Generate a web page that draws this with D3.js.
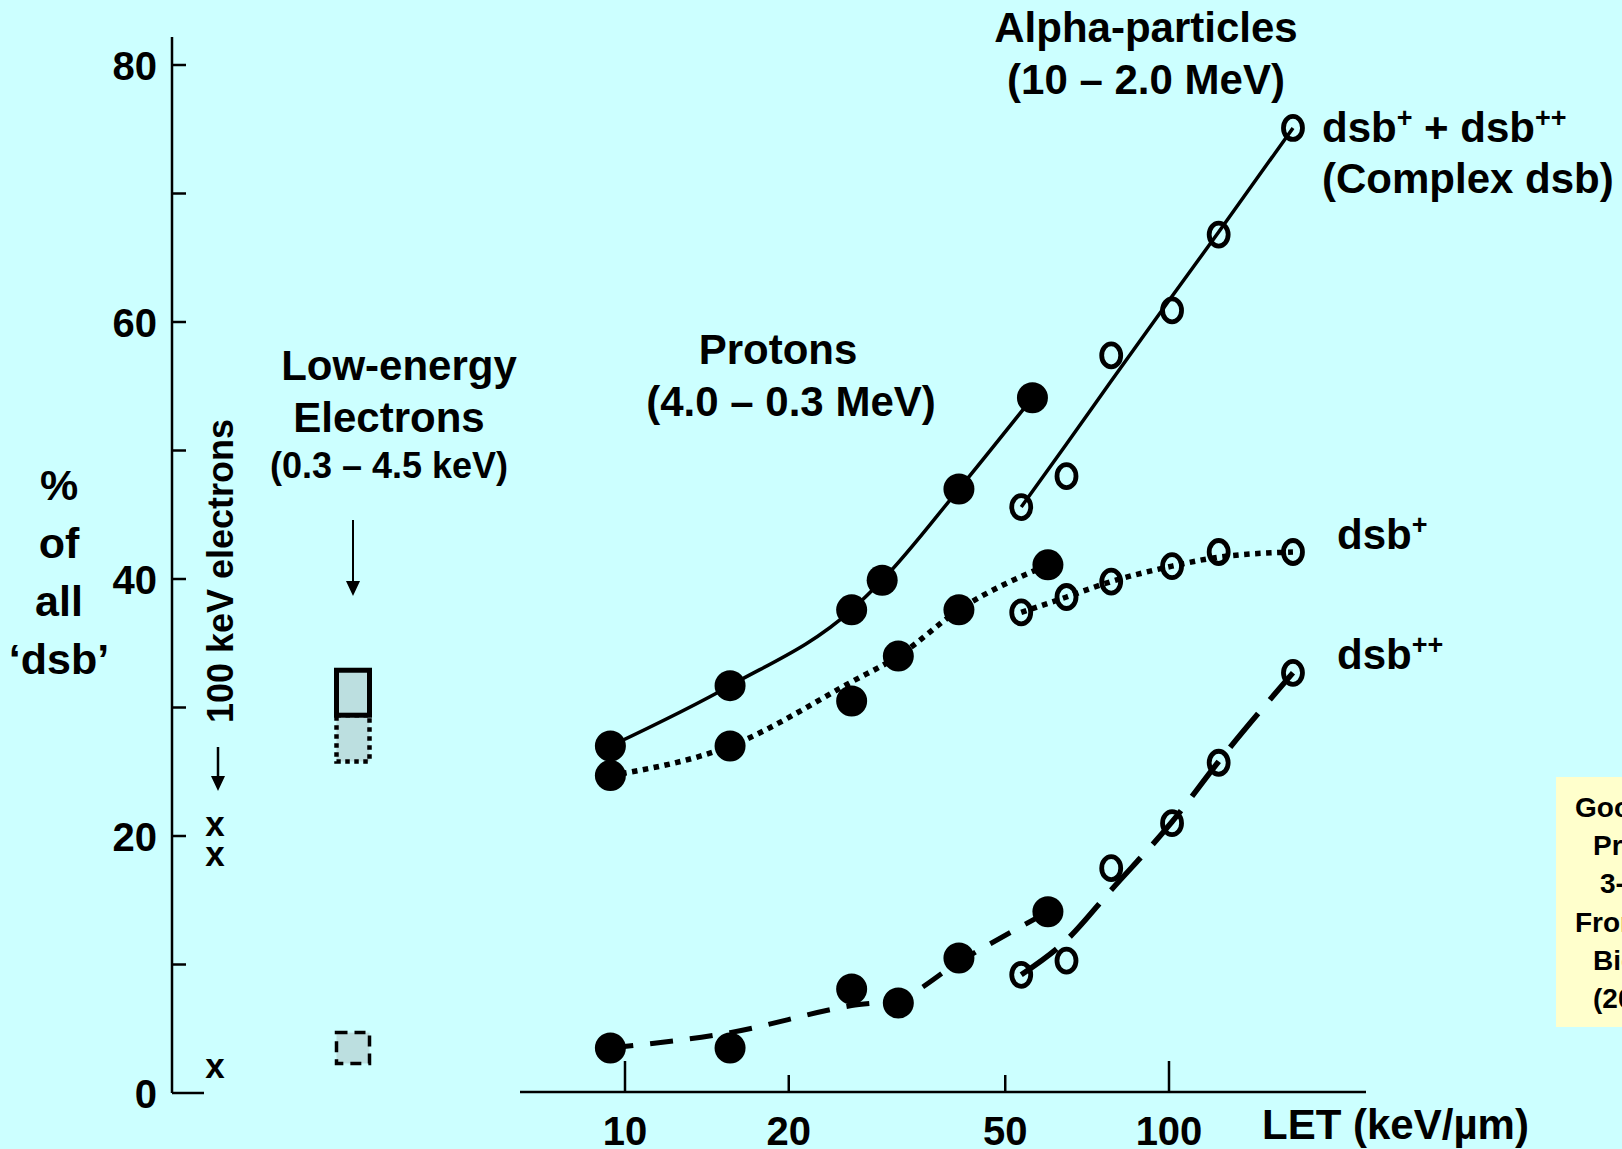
<!DOCTYPE html>
<html>
<head>
<meta charset="utf-8">
<script src="https://cdn.jsdelivr.net/npm/d3@7"></script>
<style>
  html, body { margin: 0; padding: 0; background: #ccffff; }
  svg { display: block; }
  text { font-family: "Liberation Sans", Arial, Helvetica, sans-serif; font-weight: bold; fill: #000; }
</style>
</head>
<body>
<svg id="chart" width="1622" height="1149"></svg>
<script>
// ---- Data: % of all dsb that are complex, versus LET (keV/µm) ----

// Protons (4.0 – 0.3 MeV), filled markers
const protonComplexLET = [9.4, 15.6, 26.1, 29.7, 41.1, 56.1];
const protonComplex    = [27.0, 31.7, 37.6, 39.9, 47.0, 54.1];
const protonComplexFit = [27.0, 31.7, 37.6, 39.9, 47.0, 54.1];

const protonSplitLET   = [9.4, 15.6, 26.1, 31.8, 41.1, 59.9];
const protonDsbP       = [24.7, 27.0, 30.5, 34.0, 37.6, 41.1];
const protonDsbPFit    = [24.7, 27.0, 32.0, 34.0, 37.6, 41.1];
const protonDsbPP      = [3.5, 3.5, 8.1, 7.0, 10.5, 14.1];
const protonDsbPPFit   = [3.5, 4.7, 6.8, 7.3, 10.2, 14.1];

// Alpha-particles (10 – 2.0 MeV), open markers
const alphaLET         = [53.5, 64.8, 78.3, 101.3, 123.4, 169];
const alphaComplex     = [45.6, 48.0, 57.4, 60.9, 66.8, 75.1];
const alphaComplexFit  = [45.6, 50.5, 55.4, 62.0, 67.0, 75.1];
const alphaDsbP        = [37.4, 38.6, 39.8, 41.0, 42.1, 42.1];
const alphaDsbPFit     = [37.4, 38.6, 39.8, 41.0, 41.7, 42.1];
const alphaDsbPP       = [9.2, 10.3, 17.5, 21.0, 25.7, 32.7];
const alphaDsbPPFit    = [9.2, 11.9, 15.8, 21.1, 25.8, 32.7];

// Electrons, shown in their own columns left of the LET axis
const electronColumns  = ["100 keV", "low-energy"];
const electron100      = [20.7, 18.4, 1.9];          // complex, dsb+, dsb++
const lowEnergyRanges  = [[29.4, 32.9], [25.8, 29.4], [2.3, 4.7]]; // complex, dsb+, dsb++
const lowEnergyStyles  = ["solid", "dotted", "dashed"];

// Axis ticks
const yTickValues  = [0, 10, 20, 30, 40, 50, 60, 70, 80];
const yTickLabels  = [0, 20, 40, 60, 80];
const xTickValues  = [10, 20, 50, 100];
const xMajorTicks  = [10, 100];

// Note box lines (partly outside the frame)
const noteLines = ["Goodhead", "Private", "3-D data", "From Rad.", "Biology", "(2002)"];

// ---- Layout ----
const svg = d3.select("#chart");
const y = d3.scaleLinear().domain([0, 80]).range([1093, 65]);
const x = d3.scaleLog().domain([10, 100]).range([625, 1169]);
const col = d3.scalePoint().domain(electronColumns).range([215, 353]);

const lineStyles = {
  solid:   { w: 3.5, dash: null },
  dotted:  { w: 5.5, dash: "5.5 5.5" },
  dashedP: { w: 5,   dash: "23 17" },
  dashedA: { w: 5.5, dash: "44 18" }
};

const series = [
  { lets: protonComplexLET, vals: protonComplex, fit: protonComplexFit, line: "solid",   marker: "filled" },
  { lets: protonSplitLET,   vals: protonDsbP,    fit: protonDsbPFit,    line: "dotted",  marker: "filled" },
  { lets: protonSplitLET,   vals: protonDsbPP,   fit: protonDsbPPFit,   line: "dashedP", marker: "filled" },
  { lets: alphaLET,         vals: alphaComplex,  fit: alphaComplexFit,  line: "solid",   marker: "open" },
  { lets: alphaLET,         vals: alphaDsbP,     fit: alphaDsbPFit,     line: "dotted",  marker: "open" },
  { lets: alphaLET,         vals: alphaDsbPP,    fit: alphaDsbPPFit,    line: "dashedA", marker: "open" }
];

// ---- Y axis ----
const yAxis = svg.append("g");
yAxis.append("line")
  .attr("x1", 172).attr("x2", 172).attr("y1", 37).attr("y2", y(0))
  .attr("stroke", "#000").attr("stroke-width", 2.5);
yAxis.selectAll("line.tick").data(yTickValues).join("line")
  .attr("class", "tick")
  .attr("x1", 172).attr("x2", d => d === 0 ? 204 : 186)
  .attr("y1", d => y(d)).attr("y2", d => y(d))
  .attr("stroke", "#000").attr("stroke-width", 2.5);
yAxis.selectAll("text").data(yTickLabels).join("text")
  .attr("x", 157).attr("y", d => y(d)).attr("dy", "0.38em")
  .attr("text-anchor", "end").attr("font-size", 40)
  .text(d => d);

// Y axis title, stacked
const yTitle = ["%", "of", "all", "\u2018dsb\u2019"];
svg.append("g").selectAll("text").data(yTitle).join("text")
  .attr("x", 59).attr("y", (d, i) => 500 + i * 58)
  .attr("text-anchor", "middle").attr("font-size", 43)
  .text(d => d);

// ---- X axis (log LET) ----
const xAxis = svg.append("g");
xAxis.append("line")
  .attr("x1", 520).attr("x2", 1366).attr("y1", 1092).attr("y2", 1092)
  .attr("stroke", "#000").attr("stroke-width", 2.5);
xAxis.selectAll("line.tick").data(xTickValues).join("line")
  .attr("class", "tick")
  .attr("x1", d => x(d)).attr("x2", d => x(d))
  .attr("y1", 1092).attr("y2", d => xMajorTicks.includes(d) ? 1061 : 1075)
  .attr("stroke", "#000").attr("stroke-width", 2.5);
xAxis.selectAll("text").data(xTickValues).join("text")
  .attr("x", d => x(d)).attr("y", 1145)
  .attr("text-anchor", "middle").attr("font-size", 40)
  .text(d => d);
xAxis.append("text")
  .attr("x", 1262).attr("y", 1139).attr("font-size", 42)
  .text("LET (keV/\u00b5m)");

// ---- Curves ----
const curve = d3.line()
  .x(d => x(d[0])).y(d => y(d[1]))
  .curve(d3.curveMonotoneX);

svg.append("g").selectAll("path").data(series).join("path")
  .attr("d", s => curve(s.lets.map((l, i) => [l, s.fit[i]])))
  .attr("fill", "none").attr("stroke", "#000")
  .attr("stroke-width", s => lineStyles[s.line].w)
  .attr("stroke-dasharray", s => lineStyles[s.line].dash);

// ---- Markers ----
const markers = svg.append("g");
series.forEach(s => {
  const pts = s.lets.map((l, i) => [l, s.vals[i]]);
  if (s.marker === "filled") {
    markers.append("g").selectAll("circle").data(pts).join("circle")
      .attr("cx", d => x(d[0])).attr("cy", d => y(d[1])).attr("r", 15.5)
      .attr("fill", "#000");
  } else {
    markers.append("g").selectAll("ellipse").data(pts).join("ellipse")
      .attr("cx", d => x(d[0])).attr("cy", d => y(d[1]))
      .attr("rx", 9.5).attr("ry", 11.5)
      .attr("fill", "none").attr("stroke", "#000").attr("stroke-width", 4.8);
  }
});

// ---- 100 keV electrons ----
svg.append("g").selectAll("text").data(electron100).join("text")
  .attr("x", col("100 keV")).attr("y", d => y(d)).attr("dy", "0.26em")
  .attr("text-anchor", "middle").attr("font-size", 35)
  .text("x");

svg.append("text")
  .attr("transform", "translate(233,571) rotate(-90)")
  .attr("text-anchor", "middle").attr("font-size", 36)
  .text("100 keV electrons");

// arrow below the rotated label
const arrowG = svg.append("g");
arrowG.append("line")
  .attr("x1", 218).attr("x2", 218).attr("y1", 747).attr("y2", 778)
  .attr("stroke", "#000").attr("stroke-width", 2.5);
arrowG.append("path")
  .attr("d", "M211,776 L225,776 L218,791 Z").attr("fill", "#000");

// ---- Low-energy electrons ----
const boxW = 33;
const boxStroke = { solid: [5, null], dotted: [4.5, "4.5 4.5"], dashed: [3.5, "11 7"] };
const boxData = lowEnergyRanges.map((r, i) => ({ r, style: lowEnergyStyles[i] }));
// dotted and dashed first so the solid box edge sits on top
const boxOrder = [boxData[1], boxData[2], boxData[0]];
svg.append("g").selectAll("rect").data(boxOrder).join("rect")
  .attr("x", col("low-energy") - boxW / 2)
  .attr("y", d => y(d.r[1]))
  .attr("width", boxW)
  .attr("height", d => y(d.r[0]) - y(d.r[1]))
  .attr("fill", "#bcdfe0").attr("stroke", "#000")
  .attr("stroke-width", d => boxStroke[d.style][0])
  .attr("stroke-dasharray", d => boxStroke[d.style][1]);

const arrow2 = svg.append("g");
arrow2.append("line")
  .attr("x1", col("low-energy")).attr("x2", col("low-energy"))
  .attr("y1", 520).attr("y2", 584)
  .attr("stroke", "#000").attr("stroke-width", 2);
arrow2.append("path")
  .attr("d", `M${col("low-energy") - 7},581 L${col("low-energy") + 7},581 L${col("low-energy")},596 Z`)
  .attr("fill", "#000");

// ---- Annotations ----
function label(xp, yp, size, anchor, str) {
  return svg.append("text").attr("x", xp).attr("y", yp)
    .attr("font-size", size).attr("text-anchor", anchor).text(str);
}
label(399, 380, 42, "middle", "Low-energy");
label(389, 432, 42, "middle", "Electrons");
label(389, 478, 36, "middle", "(0.3 \u2013 4.5 keV)");

label(778, 364, 42, "middle", "Protons");
label(791, 416, 42, "middle", "(4.0 \u2013 0.3 MeV)");

label(1146, 42, 42, "middle", "Alpha-particles");
label(1146, 94, 42, "middle", "(10 \u2013 2.0 MeV)");

// "dsb" labels with raised plus signs
function dsbLabel(xp, yp, parts) {
  const t = svg.append("text").attr("x", xp).attr("y", yp).attr("font-size", 42);
  let raised = false;
  parts.forEach(p => {
    const span = t.append("tspan").text(p.s);
    if (p.sup) {
      span.attr("font-size", 27).attr("dy", raised ? 0 : -15);
      raised = true;
    } else {
      span.attr("dy", raised ? 15 : 0);
      raised = false;
    }
  });
}
dsbLabel(1322, 142, [{ s: "dsb" }, { s: "+", sup: true }, { s: " + dsb" }, { s: "++", sup: true }]);
label(1322, 193, 42, "start", "(Complex dsb)");
dsbLabel(1337, 549, [{ s: "dsb" }, { s: "+", sup: true }]);
dsbLabel(1337, 669, [{ s: "dsb" }, { s: "++", sup: true }]);

// ---- Note box ----
svg.append("rect")
  .attr("x", 1556).attr("y", 777).attr("width", 120).attr("height", 250)
  .attr("fill", "#ffffcc");
const noteX = [1575, 1593, 1600, 1575, 1593, 1593];
svg.append("g").selectAll("text").data(noteLines).join("text")
  .attr("x", (d, i) => noteX[i]).attr("y", (d, i) => 817 + i * 38.2)
  .attr("font-size", 28)
  .text(d => d);
</script>
</body>
</html>
